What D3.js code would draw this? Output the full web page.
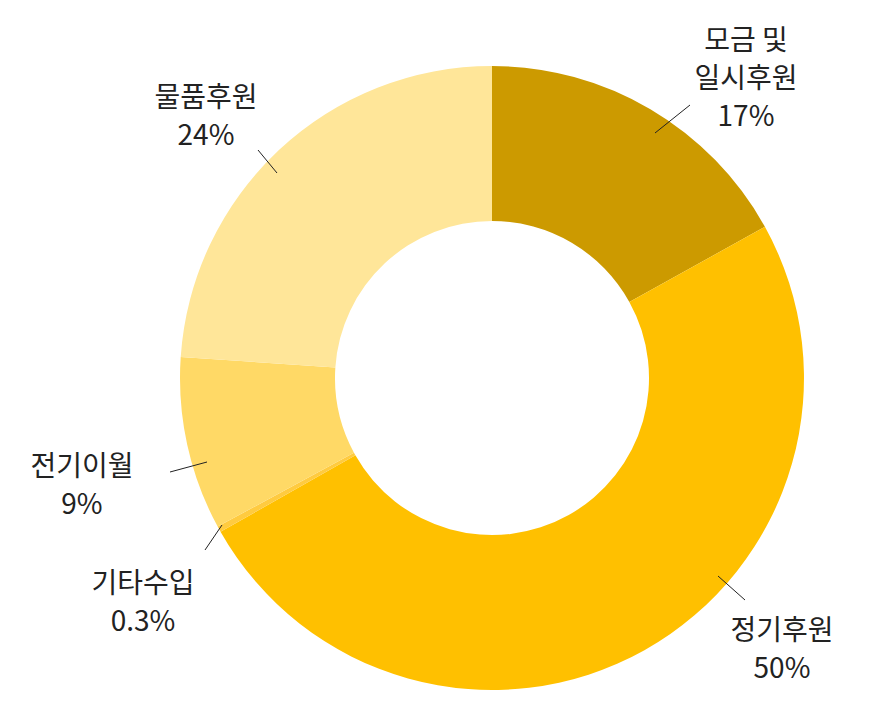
<!DOCTYPE html>
<html><head><meta charset="utf-8">
<script src="https://d3js.org/d3.v7.min.js"></script>
<style>body{margin:0;background:#fff}</style></head>
<body><svg id="c" width="887" height="723"></svg>
<script>
const categories = ["모금 및\n일시후원", "정기후원", "기타수입", "전기이월", "물품후원"];
const values = [17, 50, 0.3, 9, 24];
const pctLabels = ["17%", "50%", "0.3%", "9%", "24%"];
const colors = ["#CC9A00", "#FFC000", "#FFCB40", "#FFD966", "#FFE699"];
// label layout (text anchor positions) and leader line endpoints
const labelPos = [[746, 50], [782, 640], [143, 593], [82, 476], [206, 107]];
const leader = [[[655,133],[690,105]], [[718,576],[745,600]], [[222,525],[205,550]], [[207,462],[170,472]], [[277,173],[258,150]]];

const svg = d3.select("#c");
const cx = 492, cy = 378, R = 312, r = 157;
const pie = d3.pie().sort(null).value(d => d);
const arc = d3.arc().innerRadius(r).outerRadius(R);
const g = svg.append("g").attr("transform", `translate(${cx},${cy})`);
g.selectAll("path").data(pie(values)).join("path")
  .attr("d", arc).attr("fill", (d, i) => colors[i]);

leader.forEach(l => svg.append("line")
  .attr("x1", l[0][0]).attr("y1", l[0][1]).attr("x2", l[1][0]).attr("y2", l[1][1])
  .attr("stroke", "#222").attr("stroke-width", 1));

categories.forEach((c, i) => {
  const lines = c.split("\n").concat([pctLabels[i]]);
  const t = svg.append("text").attr("text-anchor", "middle")
    .attr("font-family", "'Noto Sans CJK KR', 'Noto Sans', sans-serif")
    .attr("font-size", 28).attr("fill", "#222");
  lines.forEach((s, j) => t.append("tspan").attr("x", labelPos[i][0])
    .attr("y", labelPos[i][1] + j * 38).text(s));
});
</script></body></html>
